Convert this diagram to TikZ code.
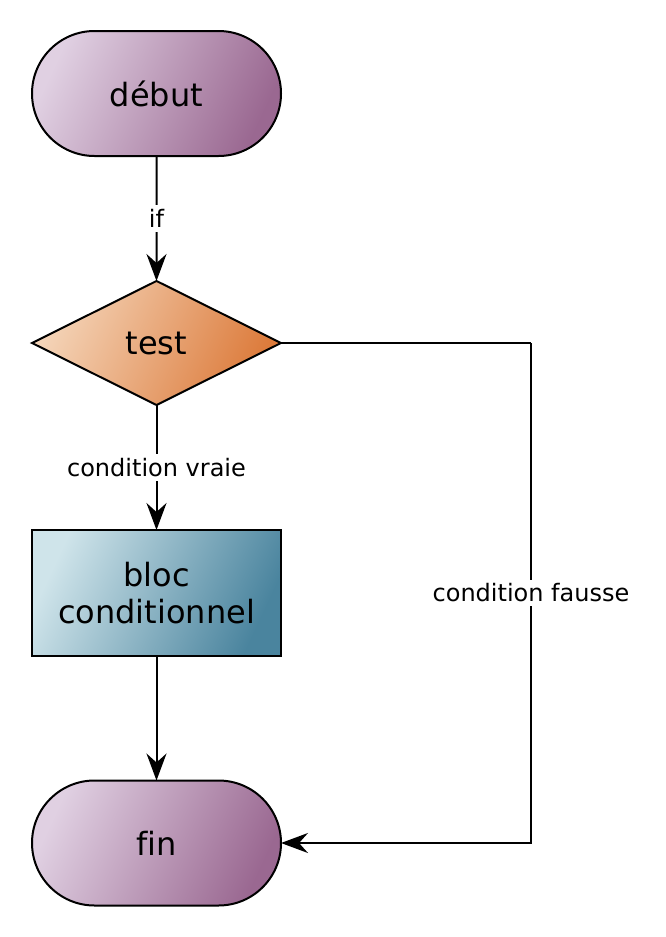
\documentclass[tikz,border=0pt]{standalone}
\usepackage{fontspec}
\setmainfont[Ligatures=NoCommon]{DejaVu Sans}
\usetikzlibrary{shapes.geometric,shapes.misc,arrows.meta}
\definecolor{purpleA}{HTML}{E0D0E2}
\definecolor{purpleB}{HTML}{9A6891}
\definecolor{orangeA}{HTML}{F4D4B8}
\definecolor{orangeB}{HTML}{DC7A3A}
\definecolor{blueA}{HTML}{CFE4EA}
\definecolor{blueB}{HTML}{4A849E}
\tikzset{
  base/.style={draw=black, line width=2pt, inner sep=0pt, outer sep=0pt,
    font=\fontsize{32}{37}\selectfont, align=center},
  terminal/.style={base, rounded rectangle, minimum width=249pt, minimum height=125pt,
    left color=purpleA, right color=purpleB, shading angle=65},
  decision/.style={base, diamond, aspect=2, minimum width=249pt, minimum height=124pt,
    left color=orangeA, right color=orangeB, shading angle=65},
  process/.style={base, rectangle, minimum width=249pt, minimum height=126pt,
    left color=blueA, right color=blueB, shading angle=65},
  conn/.style={line width=2pt, -{Stealth[length=27pt,width=20pt,inset=9pt]}},
  plain/.style={line width=2pt},
  lbl/.style={fill=white, inner sep=4pt, font=\fontsize{24}{28}\selectfont}
}
\begin{document}
\begin{tikzpicture}[x=1pt,y=-1pt]
\useasboundingbox (0,0) rectangle (666,937);
\node[terminal] (debut) at (156.5,93.5) {début};
\node[decision] (test) at (156.5,343) {test};
\node[process] (bloc) at (156.5,593) {bloc\\conditionnel};
\node[terminal] (fin) at (156.5,843) {fin};
\coordinate (c1) at (531,343);
\coordinate (c2) at (531,843);
\draw[conn] (debut) -- node[lbl] {if} (test);
\draw[conn] (test) -- node[lbl] {condition vraie} (bloc);
\draw[conn] (bloc) -- (fin);
\draw[plain] (test.east) -- (c1);
\draw[conn] (c1) -- node[lbl] {condition fausse} (c2) -- (fin.east);
\end{tikzpicture}
\end{document}
